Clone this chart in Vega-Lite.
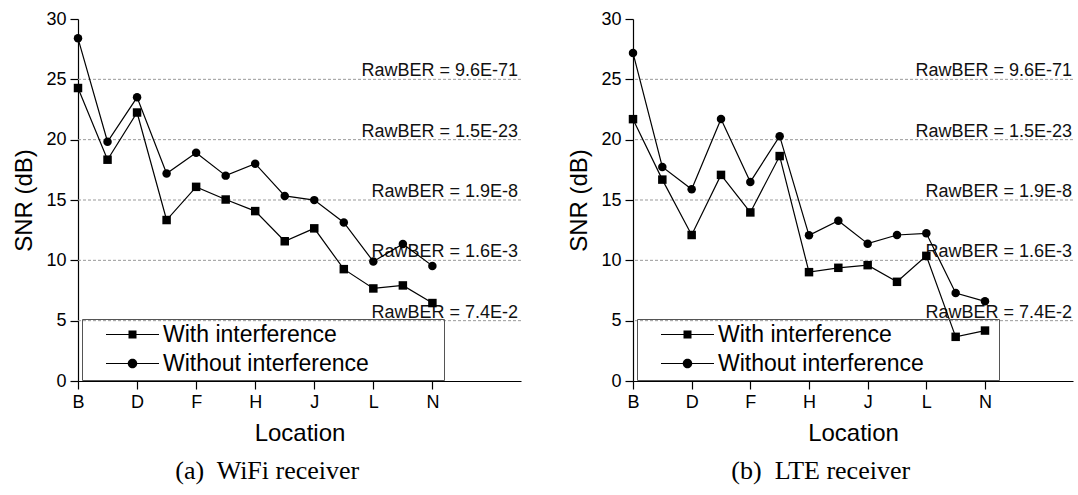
{
  "$schema": "https://vega.github.io/schema/vega-lite/v6.json",
  "padding": {"left": 12, "top": 10, "right": 5, "bottom": 5},
  "spacing": 45,
  "config": {
    "view": {"stroke": null},
    "font": "Liberation Sans"
  },
  "resolve": {"scale": {"shape": "independent"}, "legend": {"shape": "independent"}},
  "datasets": {
    "refs": [
      {"y": 25, "label": "RawBER = 9.6E-71"},
      {"y": 20, "label": "RawBER = 1.5E-23"},
      {"y": 15, "label": "RawBER = 1.9E-8"},
      {"y": 10, "label": "RawBER = 1.6E-3"},
      {"y": 5, "label": "RawBER = 7.4E-2"}
    ],
    "wifi": [
      {"idx": 0, "loc": "B", "series": "With interference", "snr": 24.28},
      {"idx": 1, "loc": "C", "series": "With interference", "snr": 18.34},
      {"idx": 2, "loc": "D", "series": "With interference", "snr": 22.25},
      {"idx": 3, "loc": "E", "series": "With interference", "snr": 13.34},
      {"idx": 4, "loc": "F", "series": "With interference", "snr": 16.09},
      {"idx": 5, "loc": "G", "series": "With interference", "snr": 15.04},
      {"idx": 6, "loc": "H", "series": "With interference", "snr": 14.08},
      {"idx": 7, "loc": "I", "series": "With interference", "snr": 11.58},
      {"idx": 8, "loc": "J", "series": "With interference", "snr": 12.65},
      {"idx": 9, "loc": "K", "series": "With interference", "snr": 9.27},
      {"idx": 10, "loc": "L", "series": "With interference", "snr": 7.67},
      {"idx": 11, "loc": "M", "series": "With interference", "snr": 7.92},
      {"idx": 12, "loc": "N", "series": "With interference", "snr": 6.46},
      {"idx": 0, "loc": "B", "series": "Without  interference", "snr": 28.40},
      {"idx": 1, "loc": "C", "series": "Without  interference", "snr": 19.83},
      {"idx": 2, "loc": "D", "series": "Without  interference", "snr": 23.51},
      {"idx": 3, "loc": "E", "series": "Without  interference", "snr": 17.19},
      {"idx": 4, "loc": "F", "series": "Without  interference", "snr": 18.92},
      {"idx": 5, "loc": "G", "series": "Without  interference", "snr": 17.02},
      {"idx": 6, "loc": "H", "series": "Without  interference", "snr": 18.01},
      {"idx": 7, "loc": "I", "series": "Without  interference", "snr": 15.34},
      {"idx": 8, "loc": "J", "series": "Without  interference", "snr": 14.99},
      {"idx": 9, "loc": "K", "series": "Without  interference", "snr": 13.14},
      {"idx": 10, "loc": "L", "series": "Without  interference", "snr": 9.90},
      {"idx": 11, "loc": "M", "series": "Without  interference", "snr": 11.36},
      {"idx": 12, "loc": "N", "series": "Without  interference", "snr": 9.54}
    ],
    "lte": [
      {"idx": 0, "loc": "B", "series": "With interference", "snr": 21.70},
      {"idx": 1, "loc": "C", "series": "With interference", "snr": 16.69},
      {"idx": 2, "loc": "D", "series": "With interference", "snr": 12.10},
      {"idx": 3, "loc": "E", "series": "With interference", "snr": 17.08},
      {"idx": 4, "loc": "F", "series": "With interference", "snr": 13.97},
      {"idx": 5, "loc": "G", "series": "With interference", "snr": 18.64},
      {"idx": 6, "loc": "H", "series": "With interference", "snr": 9.02},
      {"idx": 7, "loc": "I", "series": "With interference", "snr": 9.38},
      {"idx": 8, "loc": "J", "series": "With interference", "snr": 9.60},
      {"idx": 9, "loc": "K", "series": "With interference", "snr": 8.22},
      {"idx": 10, "loc": "L", "series": "With interference", "snr": 10.37},
      {"idx": 11, "loc": "M", "series": "With interference", "snr": 3.66},
      {"idx": 12, "loc": "N", "series": "With interference", "snr": 4.18},
      {"idx": 0, "loc": "B", "series": "Without  interference", "snr": 27.19},
      {"idx": 1, "loc": "C", "series": "Without  interference", "snr": 17.74},
      {"idx": 2, "loc": "D", "series": "Without  interference", "snr": 15.89},
      {"idx": 3, "loc": "E", "series": "Without  interference", "snr": 21.72},
      {"idx": 4, "loc": "F", "series": "Without  interference", "snr": 16.50},
      {"idx": 5, "loc": "G", "series": "Without  interference", "snr": 20.29},
      {"idx": 6, "loc": "H", "series": "Without  interference", "snr": 12.07},
      {"idx": 7, "loc": "I", "series": "Without  interference", "snr": 13.28},
      {"idx": 8, "loc": "J", "series": "Without  interference", "snr": 11.38},
      {"idx": 9, "loc": "K", "series": "Without  interference", "snr": 12.10},
      {"idx": 10, "loc": "L", "series": "Without  interference", "snr": 12.24},
      {"idx": 11, "loc": "M", "series": "Without  interference", "snr": 7.29},
      {"idx": 12, "loc": "N", "series": "Without  interference", "snr": 6.60}
    ]
  },
  "hconcat": [
    {
      "width": 443,
      "height": 362,
      "title": {"text": "(a)\u00a0 WiFi receiver", "orient": "bottom", "frame": "bounds", "anchor": "middle", "font": "Liberation Serif", "fontSize": 26, "fontWeight": "normal", "color": "black", "offset": 13},
      "resolve": {"scale": {"shape": "independent"}, "legend": {"shape": "independent"}},
      "layer": [
        {
          "data": {"name": "refs"},
          "mark": {"type": "rule", "color": "#999", "strokeDash": [3, 2], "strokeWidth": 1},
          "encoding": {
            "y": {"field": "y", "type": "quantitative", "scale": {"domain": [0, 30], "nice": false},
              "axis": {"title": "SNR (dB)", "values": [0, 2.5, 5, 7.5, 10, 12.5, 15, 17.5, 20, 22.5, 25, 27.5, 30], "labelExpr": "datum.value % 5 === 0 ? datum.label : ''", "tickSize": {"condition": {"test": "datum.value % 5 === 0", "value": 8}, "value": 4}, "labelFontSize": 18, "labelColor": "black", "titleFontSize": 24, "titleFontWeight": "normal", "titleColor": "black", "domainColor": "black", "tickColor": "black", "domainWidth": 1.2, "tickWidth": 1.2, "grid": false, "labelPadding": 4, "titlePadding": 9}}
          }
        },
        {
          "data": {"name": "refs"},
          "mark": {"type": "text", "align": "right", "baseline": "alphabetic", "dx": -3, "dy": -3, "fontSize": 18, "color": "#111"},
          "encoding": {
            "x": {"datum": 15, "type": "quantitative"},
            "y": {"field": "y", "type": "quantitative"},
            "text": {"field": "label"}
          }
        },
        {
          "data": {"name": "wifi"},
          "mark": {"type": "line", "color": "black", "strokeWidth": 1.2},
          "encoding": {
            "x": {"field": "idx", "type": "quantitative", "scale": {"domain": [0, 15], "nice": false},
              "axis": {"title": "Location", "values": [0, 1, 2, 3, 4, 5, 6, 7, 8, 9, 10, 11, 12], "labelExpr": "datum.value % 2 === 0 ? ['B','C','D','E','F','G','H','I','J','K','L','M','N'][datum.value] : ''", "tickSize": {"condition": {"test": "datum.value % 2 === 0", "value": 8}, "value": 4}, "labelFontSize": 18, "labelColor": "black", "titleFontSize": 24, "titleFontWeight": "normal", "titleColor": "black", "domainColor": "black", "tickColor": "black", "domainWidth": 1.2, "tickWidth": 1.2, "grid": false, "labelPadding": 4, "titlePadding": 10, "labelOverlap": false, "labelFlush": false}},
            "y": {"field": "snr", "type": "quantitative"},
            "detail": {"field": "series"}
          }
        },
        {
          "data": {"name": "wifi"},
          "mark": {"type": "point", "filled": true, "opacity": 1, "color": "black", "size": 72},
          "encoding": {
            "x": {"field": "idx", "type": "quantitative"},
            "y": {"field": "snr", "type": "quantitative"},
            "shape": {"field": "series", "type": "nominal", "scale": {"domain": ["With interference", "Without  interference"], "range": ["square", "circle"]}, "legend": null}
          }
        },
        {
          "data": {"values": []},
          "mark": {"type": "point", "filled": true, "opacity": 1, "color": "black"},
          "encoding": {
            "x": {"field": "idx", "type": "quantitative"},
            "y": {"field": "snr", "type": "quantitative"},
            "shape": {"field": "series", "type": "nominal", "scale": {"domain": ["With interference", "Without  interference"], "range": ["M-2.65,-0.06L2.65,-0.06L2.65,0.06L-2.65,0.06ZM-0.4,-0.4L0.4,-0.4L0.4,0.4L-0.4,0.4Z", "M-2.65,-0.06L2.65,-0.06L2.65,0.06L-2.65,0.06ZM0.475,0A0.475,0.475,0,1,1,-0.475,0A0.475,0.475,0,1,1,0.475,0Z"]},
              "legend": {"orient": "none", "legendX": 4, "legendY": 300, "title": null, "labelFontSize": 23, "labelColor": "black", "strokeColor": "#555", "padding": 4, "symbolOffset": 35, "labelOffset": 19, "labelLimit": 0, "rowPadding": 5, "symbolSize": 400, "symbolFillColor": "black", "symbolOpacity": 1,
                "labelExpr": "datum.label + '\u00a0\u00a0\u00a0\u00a0\u00a0\u00a0\u00a0\u00a0\u00a0\u00a0\u200b'"}}
          }
        }
      ]
    },
    {
      "width": 440,
      "height": 362,
      "title": {"text": "(b)\u00a0 LTE receiver", "orient": "bottom", "frame": "bounds", "anchor": "middle", "font": "Liberation Serif", "fontSize": 26, "fontWeight": "normal", "color": "black", "offset": 13},
      "resolve": {"scale": {"shape": "independent"}, "legend": {"shape": "independent"}},
      "layer": [
        {
          "data": {"name": "refs"},
          "mark": {"type": "rule", "color": "#999", "strokeDash": [3, 2], "strokeWidth": 1},
          "encoding": {
            "y": {"field": "y", "type": "quantitative", "scale": {"domain": [0, 30], "nice": false},
              "axis": {"title": "SNR (dB)", "values": [0, 2.5, 5, 7.5, 10, 12.5, 15, 17.5, 20, 22.5, 25, 27.5, 30], "labelExpr": "datum.value % 5 === 0 ? datum.label : ''", "tickSize": {"condition": {"test": "datum.value % 5 === 0", "value": 8}, "value": 4}, "labelFontSize": 18, "labelColor": "black", "titleFontSize": 24, "titleFontWeight": "normal", "titleColor": "black", "domainColor": "black", "tickColor": "black", "domainWidth": 1.2, "tickWidth": 1.2, "grid": false, "labelPadding": 4, "titlePadding": 9}}
          }
        },
        {
          "data": {"name": "refs"},
          "mark": {"type": "text", "align": "right", "baseline": "alphabetic", "dx": -1, "dy": -3, "fontSize": 18, "color": "#111"},
          "encoding": {
            "x": {"datum": 15, "type": "quantitative"},
            "y": {"field": "y", "type": "quantitative"},
            "text": {"field": "label"}
          }
        },
        {
          "data": {"name": "lte"},
          "mark": {"type": "line", "color": "black", "strokeWidth": 1.2},
          "encoding": {
            "x": {"field": "idx", "type": "quantitative", "scale": {"domain": [0, 15], "nice": false},
              "axis": {"title": "Location", "values": [0, 1, 2, 3, 4, 5, 6, 7, 8, 9, 10, 11, 12], "labelExpr": "datum.value % 2 === 0 ? ['B','C','D','E','F','G','H','I','J','K','L','M','N'][datum.value] : ''", "tickSize": {"condition": {"test": "datum.value % 2 === 0", "value": 8}, "value": 4}, "labelFontSize": 18, "labelColor": "black", "titleFontSize": 24, "titleFontWeight": "normal", "titleColor": "black", "domainColor": "black", "tickColor": "black", "domainWidth": 1.2, "tickWidth": 1.2, "grid": false, "labelPadding": 4, "titlePadding": 10, "labelOverlap": false, "labelFlush": false}},
            "y": {"field": "snr", "type": "quantitative"},
            "detail": {"field": "series"}
          }
        },
        {
          "data": {"name": "lte"},
          "mark": {"type": "point", "filled": true, "opacity": 1, "color": "black", "size": 72},
          "encoding": {
            "x": {"field": "idx", "type": "quantitative"},
            "y": {"field": "snr", "type": "quantitative"},
            "shape": {"field": "series", "type": "nominal", "scale": {"domain": ["With interference", "Without  interference"], "range": ["square", "circle"]}, "legend": null}
          }
        },
        {
          "data": {"values": []},
          "mark": {"type": "point", "filled": true, "opacity": 1, "color": "black"},
          "encoding": {
            "x": {"field": "idx", "type": "quantitative"},
            "y": {"field": "snr", "type": "quantitative"},
            "shape": {"field": "series", "type": "nominal", "scale": {"domain": ["With interference", "Without  interference"], "range": ["M-2.65,-0.06L2.65,-0.06L2.65,0.06L-2.65,0.06ZM-0.4,-0.4L0.4,-0.4L0.4,0.4L-0.4,0.4Z", "M-2.65,-0.06L2.65,-0.06L2.65,0.06L-2.65,0.06ZM0.475,0A0.475,0.475,0,1,1,-0.475,0A0.475,0.475,0,1,1,0.475,0Z"]},
              "legend": {"orient": "none", "legendX": 4, "legendY": 300, "title": null, "labelFontSize": 23, "labelColor": "black", "strokeColor": "#555", "padding": 4, "symbolOffset": 35, "labelOffset": 19, "labelLimit": 0, "rowPadding": 5, "symbolSize": 400, "symbolFillColor": "black", "symbolOpacity": 1,
                "labelExpr": "datum.label + '\u00a0\u00a0\u00a0\u00a0\u00a0\u00a0\u00a0\u00a0\u00a0\u00a0\u200b'"}}
          }
        }
      ]
    }
  ]
}
